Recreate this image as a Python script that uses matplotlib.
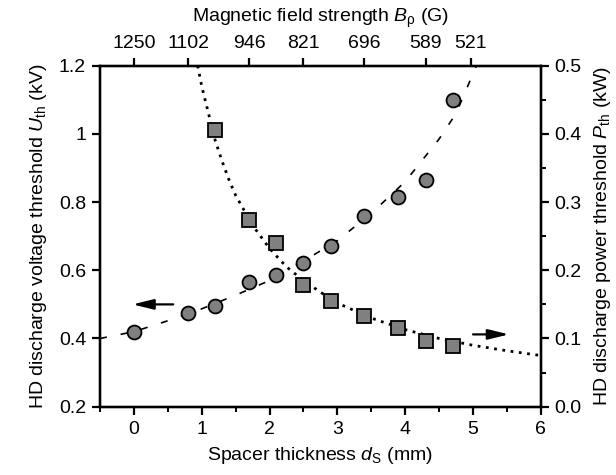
import numpy as np
from matplotlib import pyplot as plt

# measured points
d_U = [0.0, 0.8, 1.2, 1.7, 2.1, 2.5, 2.9, 3.4, 3.9, 4.3, 4.7]
U_th = [0.42, 0.475, 0.495, 0.567, 0.585, 0.62, 0.67, 0.76, 0.815, 0.866, 1.10]
d_P = [1.2, 1.7, 2.1, 2.5, 2.9, 3.4, 3.9, 4.3, 4.7]
P_th = [0.406, 0.274, 0.240, 0.178, 0.155, 0.133, 0.116, 0.096, 0.089]

# fit curves
fit_U_d = [-0.5, 0.0, 0.5, 1.0, 1.5, 2.0, 2.5, 3.0, 3.5, 4.0, 4.5, 4.75, 5.05]
fit_U = [0.40, 0.42, 0.452, 0.487, 0.527, 0.570, 0.627, 0.687, 0.767, 0.860, 0.985, 1.06, 1.20]
fit_P_d = [0.94, 1.0, 1.1, 1.2, 1.3, 1.4, 1.5, 1.75, 2.0, 2.25, 2.5, 2.75, 3.0, 3.5,
           4.0, 4.5, 5.0, 5.5, 6.0]
fit_P = [0.50, 0.47, 0.43, 0.39, 0.36, 0.333, 0.31, 0.266, 0.232, 0.205, 0.185, 0.168,
         0.152, 0.130, 0.113, 0.100, 0.090, 0.082, 0.075]

# top axis: magnetic field at given spacer thickness
B_pos = [0.0, 0.8, 1.7, 2.5, 3.4, 4.3, 4.97]
B_lab = ['1250', '1102', '946', '821', '696', '589', '521']

plt.rcParams.update({"font.family": "Liberation Sans", "font.size": 14,
                     "mathtext.fontset": "custom",
                     "mathtext.rm": "Liberation Sans",
                     "mathtext.it": "Liberation Sans:italic",
                     "axes.linewidth": 1.6})

fig = plt.figure(figsize=(6.16, 4.75), dpi=100)
ax = fig.add_axes([0.1623, 0.1438, 0.7157, 0.7179])
ax2 = ax.twinx()
ax3 = ax.twiny()

grey = '#808080'

ax.plot(fit_U_d, fit_U, c='black', lw=1.2, dashes=(4.2, 8.4), zorder=1)
ax.plot(d_U, U_th, 'o', ms=10, mfc=grey, mec='black', mew=1.3, zorder=3)

ax2.plot(fit_P_d, fit_P, c='black', lw=2.0, dashes=(1, 2), zorder=1)
ax2.plot(d_P, P_th, 's', ms=9.5, mfc=grey, mec='black', mew=1.3, zorder=3)

ax.set_xlim(-0.5, 6)
ax.set_ylim(0.2, 1.2)
ax2.set_ylim(0.0, 0.5)
ax3.set_xlim(-0.5, 6)

ax.set_xticks(range(0, 7))
ax.set_xticks(np.arange(-0.5, 6.01, 0.5), minor=True)
ax.set_yticks([0.2, 0.4, 0.6, 0.8, 1.0, 1.2])
ax.set_yticklabels(['0.2', '0.4', '0.6', '0.8', '1', '1.2'])
ax2.set_yticks([0.0, 0.1, 0.2, 0.3, 0.4, 0.5])
ax2.set_yticklabels(['0.0', '0.1', '0.2', '0.3', '0.4', '0.5'])
ax2.set_yticks(np.arange(0.05, 0.5, 0.1), minor=True)
ax3.set_xticks(B_pos)
ax3.set_xticklabels(B_lab)

for a in (ax, ax2, ax3):
    a.tick_params(which='major', length=6, width=1.6, labelsize=14, pad=4)
    a.tick_params(which='minor', length=3.5, width=1.4)

ax.set_xlabel(r"Spacer thickness $d_{\mathrm{S}}$ (mm)", fontsize=14, labelpad=5)
ax.set_ylabel(r"HD discharge voltage threshold $U_{\mathrm{th}}$ (kV)", fontsize=14, labelpad=7)
ax2.set_ylabel(r"HD discharge power threshold $P_{\mathrm{th}}$ (kW)", fontsize=14, labelpad=7)
ax3.set_xlabel(r"Magnetic field strength $B_{\mathrm{\rho}}$ (G)", fontsize=14, labelpad=9)

arrow = dict(arrowstyle='-|>,head_length=0.9,head_width=0.22', color='black', lw=1.6,
             shrinkA=0, shrinkB=0)
ax.annotate('', xy=(-0.02, 0.50), xytext=(0.58, 0.50), arrowprops=arrow)
ax.annotate('', xy=(5.53, 0.412), xytext=(5.0, 0.412), arrowprops=arrow)

fig.savefig('out.png', dpi=100)
